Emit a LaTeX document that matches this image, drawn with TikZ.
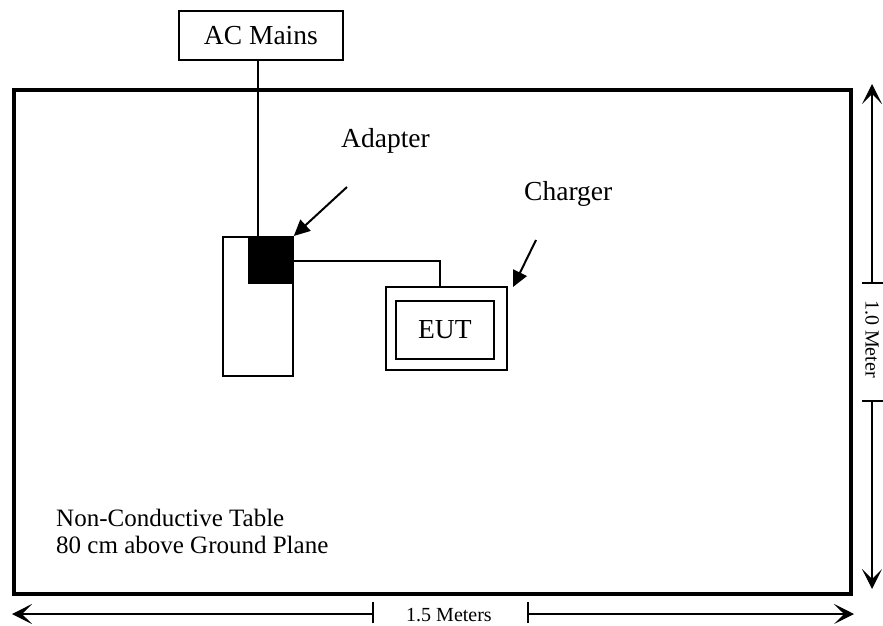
\documentclass[tikz,border=0pt]{standalone}
\usepackage{fontspec}
\setmainfont{Liberation Serif}
\usetikzlibrary{arrows.meta}
\begin{document}
\begin{tikzpicture}[x=1pt,y=-1pt,
  thin line/.style={line width=1.8pt},
  lbl/.style={font=\fontsize{27.5}{32}\selectfont, inner sep=0pt},
  dimlbl/.style={font=\fontsize{20}{24}\selectfont, inner sep=0pt},
  dimarrow/.style={line width=1.3pt, -{Stealth[length=20pt,width=20pt,inset=10pt]}},
  pointer/.style={line width=2pt, -{Triangle[length=16pt,width=15pt]}}]
\useasboundingbox (0,0) rectangle (883,626);
% table
\node[draw, line width=4pt, minimum width=837pt, minimum height=504pt, anchor=north west, inner sep=0pt] (table) at (12,88) {};
% AC mains
\node[draw, thin line, minimum width=164pt, minimum height=49pt, anchor=north west, inner sep=0pt, lbl] (ac) at (178,10) {AC Mains};
% tall rect
\node[draw, thin line, minimum width=70pt, minimum height=139pt, anchor=north west, inner sep=0pt] (tall) at (222,236) {};
% adapter
\node[draw, fill=black, thin line, minimum width=44pt, minimum height=46pt, anchor=north west, inner sep=0pt] (adapter) at (248,236) {};
% charger
\node[draw, thin line, minimum width=121pt, minimum height=83pt, anchor=north west, inner sep=0pt] (charger) at (385,286) {};
\node[draw, thin line, minimum width=98pt, minimum height=58pt, anchor=north west, inner sep=0pt, lbl] (eut) at (395,300) {EUT};
% cables
\draw[thin line] (ac.south -| 258,0) -- (adapter.north -| 258,0);
\coordinate (bend) at (440,261);
\draw[thin line] (adapter.east |- bend) -- (bend) -- (charger.north -| bend);
% labels
\node[lbl, anchor=base west] (adlbl) at (341,147) {Adapter};
\node[lbl, anchor=base west] (chlbl) at (524,200) {Charger};
\coordinate (adfrom) at (347,187);
\coordinate (chfrom) at (536,240);
\coordinate (chtip) at (513,287);
\draw[pointer] (adfrom) -- (adapter.north east);
\draw[pointer] (chfrom) -- (chtip);
\node[font=\fontsize{25}{27}\selectfont, anchor=base west, align=left, inner sep=0pt] (tabletext) at (56,553) {Non-Conductive Table\\80 cm above Ground Plane};
% right dimension
\node[dimlbl, rotate=-90] (vlbl) at (872,339) {1.0 Meter};
\coordinate (vtop) at (872,84);
\coordinate (vbot) at (872,589);
\coordinate (vt1) at (872,283);
\coordinate (vt2) at (872,401);
\draw[dimarrow] (vt1) -- (vtop);
\draw[dimarrow] (vt2) -- (vbot);
\draw[line width=1.3pt] ([xshift=-10pt]vt1) -- ([xshift=11pt]vt1);
\draw[line width=1.3pt] ([xshift=-10pt]vt2) -- ([xshift=11pt]vt2);
% bottom dimension
\node[dimlbl, anchor=base] (hlbl) at (449,621) {1.5 Meters};
\coordinate (hl) at (12,614);
\coordinate (hr) at (854,614);
\coordinate (ht1) at (373,614);
\coordinate (ht2) at (528,614);
\draw[dimarrow] (ht1) -- (hl);
\draw[dimarrow] (ht2) -- (hr);
\draw[line width=1.3pt] ([yshift=-9pt]ht1) -- ([yshift=12pt]ht1);
\draw[line width=1.3pt] ([yshift=-9pt]ht2) -- ([yshift=12pt]ht2);
\end{tikzpicture}
\end{document}
